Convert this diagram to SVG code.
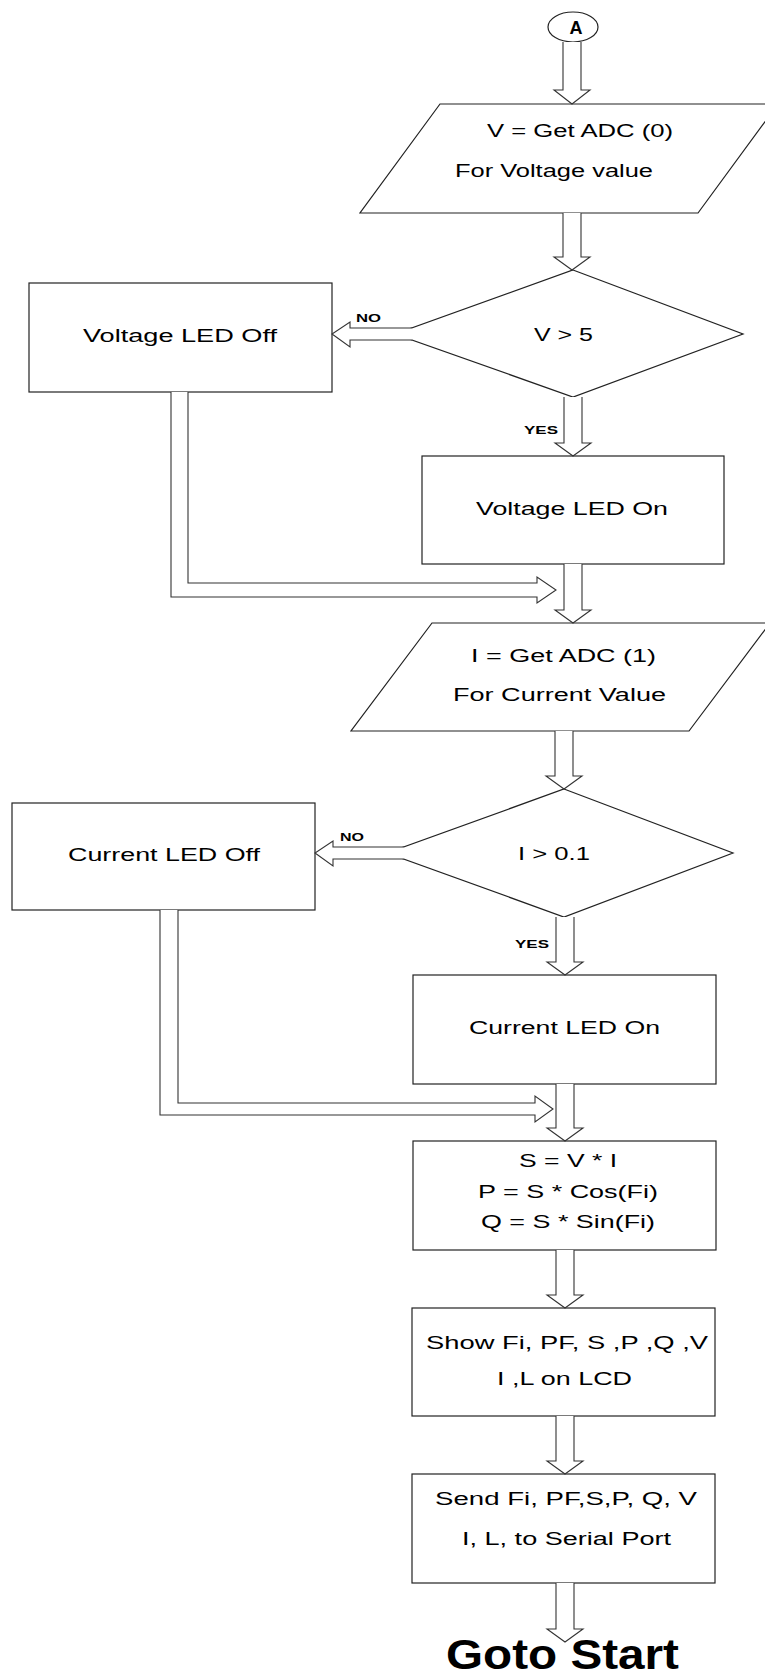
<svg xmlns="http://www.w3.org/2000/svg" width="765" height="1679" viewBox="0 0 765 1679">
<style>
.s{fill:#fff;stroke:#222;stroke-width:1.2}
.c{fill:#fff;stroke:#333;stroke-width:1.1}
.t{font-family:"Liberation Sans",Arial,sans-serif;font-size:17.5px;fill:#000}
.l{font-family:"Liberation Sans",Arial,sans-serif;font-size:11px;font-weight:bold;fill:#000}
</style>
<rect width="765" height="1679" fill="#fff"/>
<g id="nodes">
<g id="start"><ellipse class="s" cx="573" cy="27" rx="25" ry="15"/><text x="576" y="34" text-anchor="middle" style="font-family:'Liberation Sans',Arial,sans-serif;font-size:18px;font-weight:bold">A</text></g>
<g id="getV"><polygon class="s" points="440,104 778,104 698,213 360,213"/><text class="t" x="487" y="137" textLength="186" lengthAdjust="spacingAndGlyphs">V = Get ADC (0)</text><text class="t" x="455" y="177" textLength="198" lengthAdjust="spacingAndGlyphs">For Voltage value</text></g>
<g id="decV"><polygon class="s" points="573,270 743,334 573,397 395,334"/><text class="t" x="534" y="341" textLength="59" lengthAdjust="spacingAndGlyphs">V &gt; 5</text></g>
<g id="vOff"><rect class="s" x="29" y="283" width="303" height="109"/><text class="t" x="83" y="342" textLength="194" lengthAdjust="spacingAndGlyphs">Voltage LED Off</text></g>
<g id="vOn"><rect class="s" x="422" y="456" width="302" height="108"/><text class="t" x="476" y="515" textLength="192" lengthAdjust="spacingAndGlyphs">Voltage LED On</text></g>
<g id="getI"><polygon class="s" points="432,623 770,623 689,731 351,731"/><text class="t" x="471" y="662" textLength="185" lengthAdjust="spacingAndGlyphs">I = Get ADC (1)</text><text class="t" x="453" y="701" textLength="213" lengthAdjust="spacingAndGlyphs">For Current Value</text></g>
<g id="decI"><polygon class="s" points="564,789 733,853 564,917 387,853"/><text class="t" x="518" y="860" textLength="72" lengthAdjust="spacingAndGlyphs">I &gt; 0.1</text></g>
<g id="iOff"><rect class="s" x="12" y="803" width="303" height="107"/><text class="t" x="68" y="861" textLength="192" lengthAdjust="spacingAndGlyphs">Current LED Off</text></g>
<g id="iOn"><rect class="s" x="413" y="975" width="303" height="109"/><text class="t" x="469" y="1034" textLength="191" lengthAdjust="spacingAndGlyphs">Current LED On</text></g>
<g id="calc"><rect class="s" x="413" y="1141" width="303" height="109"/><text class="t" x="519" y="1167" textLength="98" lengthAdjust="spacingAndGlyphs">S = V * I</text><text class="t" x="478" y="1198" textLength="180" lengthAdjust="spacingAndGlyphs">P = S * Cos(Fi)</text><text class="t" x="481" y="1228" textLength="174" lengthAdjust="spacingAndGlyphs">Q = S * Sin(Fi)</text></g>
<g id="show"><rect class="s" x="412" y="1308" width="303" height="108"/><text class="t" x="426" y="1349" textLength="282" lengthAdjust="spacingAndGlyphs">Show Fi, PF, S ,P ,Q ,V</text><text class="t" x="497" y="1385" textLength="135" lengthAdjust="spacingAndGlyphs">I ,L on LCD</text></g>
<g id="send"><rect class="s" x="412" y="1474" width="303" height="109"/><text class="t" x="435" y="1505" textLength="262" lengthAdjust="spacingAndGlyphs">Send Fi, PF,S,P, Q, V</text><text class="t" x="462" y="1545" textLength="209" lengthAdjust="spacingAndGlyphs">I, L, to Serial Port</text></g>
<g id="end"><text x="446" y="1669" textLength="233" lengthAdjust="spacingAndGlyphs" style="font-family:'Liberation Sans',Arial,sans-serif;font-size:42px;font-weight:bold">Goto Start</text></g>
</g>
<g id="connectors">
<path class="c" d="M563,42 V90 H554 L572,104 L590,90 H581 V42"/>
<path class="c" d="M563,213 V257 H554 L572,270 L590,257 H581 V213"/>
<path class="c" d="M564,397 V443 H555 L573,456 L591,443 H582 V397"/>
<path class="c" d="M564,564 V610 H555 L573,623 L591,610 H582 V564"/>
<path class="c" d="M555,731 V776 H546 L564,789 L582,776 H573 V731"/>
<path class="c" d="M556,917 V962 H547 L565,975 L583,962 H574 V917"/>
<path class="c" d="M556,1084 V1128 H547 L565,1141 L583,1128 H574 V1084"/>
<path class="c" d="M556,1250 V1295 H547 L565,1308 L583,1295 H574 V1250"/>
<path class="c" d="M556,1416 V1461 H547 L565,1474 L583,1461 H574 V1416"/>
<path class="c" d="M556,1583 V1629 H547 L565,1642 L583,1629 H574 V1583"/>
<path class="c" d="M412,328 H350 V322 L332,334 L350,347 V340 H412"/>
<path class="c" d="M404,847 H333 V841 L315,853 L333,866 V859 H404"/>
<path class="c" d="M171,392 V597 H537 V603 L556,590 L537,577 V583 H188 V392"/>
<path class="c" d="M160,910 V1115 H535 V1122 L553,1109 L535,1096 V1103 H178 V910"/>
<text class="l" x="356" y="322" textLength="25" lengthAdjust="spacingAndGlyphs">NO</text>
<text class="l" x="524" y="434" textLength="34" lengthAdjust="spacingAndGlyphs">YES</text>
<text class="l" x="340" y="841" textLength="24" lengthAdjust="spacingAndGlyphs">NO</text>
<text class="l" x="515" y="948" textLength="34" lengthAdjust="spacingAndGlyphs">YES</text>
</g>
</svg>
